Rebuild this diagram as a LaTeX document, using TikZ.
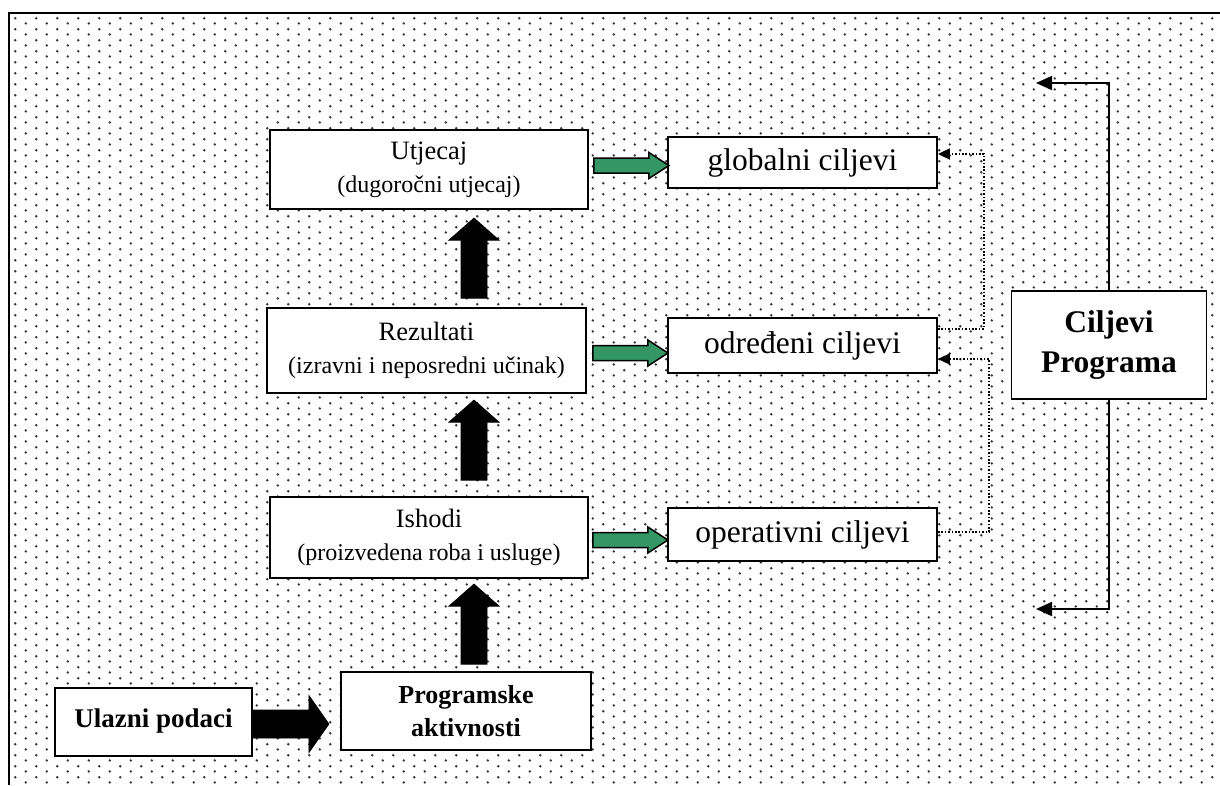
\documentclass[tikz,border=0pt]{standalone}
\usepackage{fontspec}
\setmainfont{Liberation Serif}
\usetikzlibrary{calc,patterns,arrows.meta}
\definecolor{arrgreen}{RGB}{52,150,100}
\pgfdeclarepatternformonly{wdots}{\pgfpointorigin}{\pgfpoint{21.33pt}{10.67pt}}{\pgfpoint{21.33pt}{10.67pt}}{%
  \pgfpathcircle{\pgfpoint{5pt}{2.6pt}}{1.4pt}%
  \pgfpathcircle{\pgfpoint{15.67pt}{7.93pt}}{1.4pt}%
  \pgfusepath{fill}}
\newcommand\greenarr[1]{\draw[greenarrow] (#1) ++(0,-7.5) -- ++(55,0) -- ++(0,-5.5) -- ++(20,13) -- ++(-20,13) -- ++(0,-5.5) -- ++(-55,0) -- cycle;}
\newcommand\uparr[1]{\draw[blackarrow] (#1) ++(-13,0) -- ++(0,-58) -- ++(-12,0) -- ++(25,-22) -- ++(25,22) -- ++(-12,0) -- ++(0,58) -- cycle;}
\begin{document}
\begin{tikzpicture}[x=1pt,y=-1pt,
  box/.style={draw=black,line width=1.8pt,fill=white,inner sep=0pt,align=center},
  sub/.style={font=\fontsize{24}{33}\selectfont},
  goal/.style={box,minimum width=269,font=\fontsize{31.5}{36}\selectfont},
  greenarrow/.style={fill=arrgreen,draw=black,line width=1.5pt,line join=miter},
  blackarrow/.style={fill=black,draw=black,line width=0.8pt,line join=miter},
  solidarrow/.style={draw=black,line width=1.8pt,-{Triangle[length=16,width=14]}},
  dotarrow/.style={draw=black,line width=1.8pt,dash pattern=on 1.6pt off 1.8pt,-{Triangle[length=12,width=11]}}]
\useasboundingbox (0,0) rectangle (1220,785);
\fill[white] (0,0) rectangle (1220,785);
\fill[pattern=wdots,pattern color=black!80] (10,14) rectangle (1220,785);
\draw[line width=2.6pt] (9,785) -- (9,13) -- (1220,13);

% left column
\node[box,sub,minimum width=318,minimum height=79] (utj) at (429,169.5)
  {\fontsize{26.5}{33}\selectfont Utjecaj\\ (dugoročni utjecaj)};
\node[box,sub,minimum width=319,minimum height=85] (rez) at (426.5,350.5)
  {\fontsize{26.5}{33}\selectfont Rezultati\\ (izravni i neposredni učinak)};
\node[box,sub,minimum width=318,minimum height=81] (ish) at (429,537.5)
  {\fontsize{26.5}{33}\selectfont Ishodi\\ (proizvedena roba i usluge)};
\node[box,font=\bfseries\fontsize{26}{33}\selectfont,minimum width=250,minimum height=78] (prog) at (466,711)
  {Programske\\ aktivnosti};
\node[box,font=\bfseries\fontsize{27}{33}\selectfont,minimum width=197,minimum height=68] (ul) at (153.5,722)
  {\raisebox{8pt}{Ulazni podaci}};

% goals
\node[goal,minimum height=51] (glob) at (802.5,162.5) {globalni ciljevi};
\node[goal,minimum height=55] (odr) at (802.5,345.5) {određeni ciljevi};
\node[goal,minimum height=53] (op) at (802.5,534.5) {operativni ciljevi};
\node[box,font=\bfseries\fontsize{31.5}{40}\selectfont,minimum width=195,minimum height=108] (cp) at (1109,345)
  {Ciljevi\\ Programa};

% black fat arrows
\uparr{$(rez.north)+(47.5,-9)$}
\uparr{$(ish.north)+(45,-16)$}
\uparr{$(prog.north)+(8,-7)$}
\draw[blackarrow] (ul.east) ++(0,-12) -- ++(56,0) -- ++(0,-14.5) -- ++(20,28.5) -- ++(-20,28.5) -- ++(0,-14.5) -- ++(-56,0) -- cycle;

% green arrows
\greenarr{$(utj.east)+(5,-4)$}
\greenarr{$(rez.east)+(6,2.5)$}
\greenarr{$(ish.east)+(4,2.5)$}

% programme goals connectors
\coordinate (ctop) at (1109,83);
\coordinate (ttop) at (1036,83);
\coordinate (cbot) at (1109,609);
\coordinate (tbot) at (1036,609);
\draw[solidarrow] (cp.north) -- (ctop) -- (ttop);
\draw[solidarrow] (cp.south) -- (cbot) -- (tbot);

% dotted connectors
\coordinate (d1a) at ($(odr.east)+(0,-16.5)$);
\coordinate (d1b) at ($(glob.east)+(0,-8.5)$);
\coordinate (d2a) at ($(op.east)+(0,-2.5)$);
\coordinate (d2b) at ($(odr.east)+(0,13.5)$);
\draw[dotarrow] (d1a) -- ++(46,0) |- (d1b);
\draw[dotarrow] (d2a) -- ++(51,0) |- (d2b);
\end{tikzpicture}
\end{document}
